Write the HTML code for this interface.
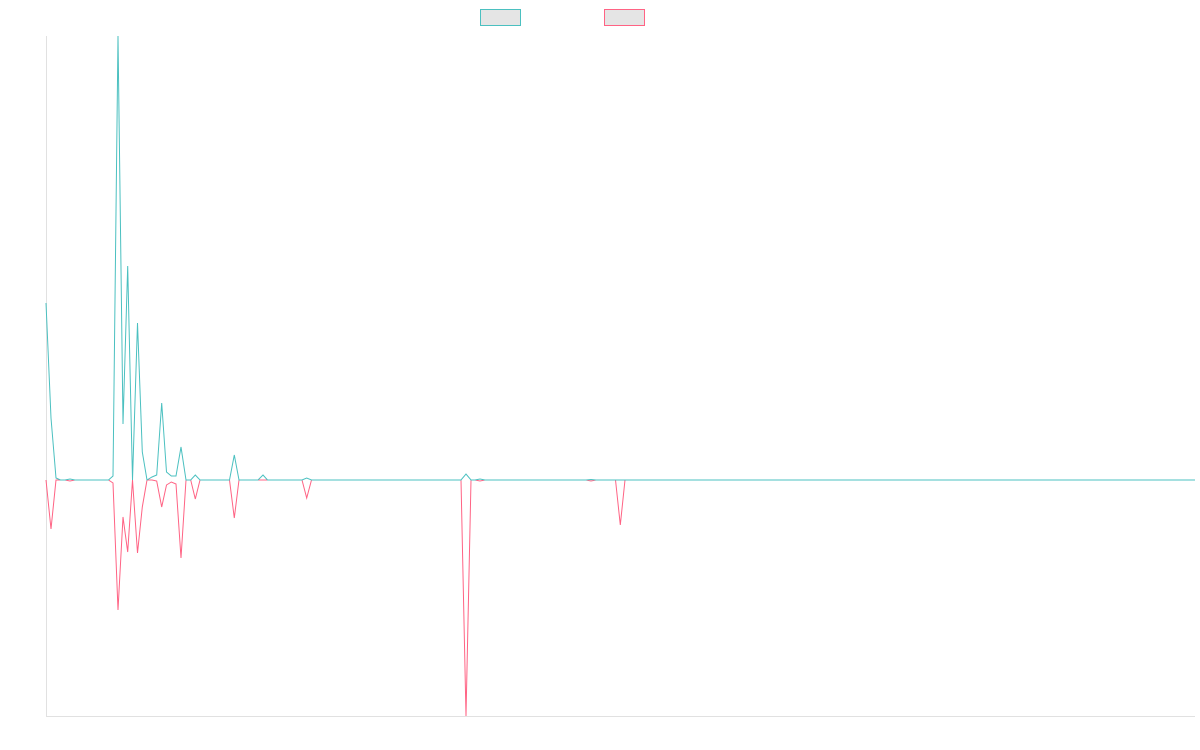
<!DOCTYPE html>
<html><head><meta charset="utf-8"><style>html,body{margin:0;padding:0;background:#fff;}svg{display:block}</style></head>
<body>
<svg width="1200" height="750" xmlns="http://www.w3.org/2000/svg">
<rect x="480.5" y="9.5" width="40" height="16" fill="#e5e5e5" stroke="#4bc0c0" stroke-width="1"/>
<rect x="604.5" y="9.5" width="40" height="16" fill="#e5e5e5" stroke="#ff6384" stroke-width="1"/>
<line x1="46.5" y1="36" x2="46.5" y2="716.5" stroke="#e1e1e1" stroke-width="1"/>
<line x1="46" y1="716.5" x2="1195" y2="716.5" stroke="#e1e1e1" stroke-width="1"/>
<polyline fill="none" stroke="#ff6384" stroke-width="1" stroke-linejoin="miter" points="46,480 51,529 56,480 65,480 70,481 75,480 108.5,480 113,483 118,610 123,517 127.7,552 132.5,480 137.5,553 142.3,507 147,480 152,480 156.7,481 161.7,507 166.5,485 171.3,482 176,484 181,558 186,480 190.7,480 195.3,499 200,480 229.5,480 234.3,518 239,480 302,480 306.7,498 311.5,480 461,480 466,716 471,480 475,480 480,481 485,480 586,480 591,481 596,480 615.5,480 620.3,525 625,480 1195,480"/>
<polyline fill="none" stroke="#4bc0c0" stroke-width="1" stroke-linejoin="miter" points="46,303 51,418 56,478 60.5,480 65,480 70,479 75,480 108.5,480 113,476 118,36 123,424 127.7,266 132.5,480 137.5,323 142.3,452 147,480 152,477 156.7,475 161.7,403 166.5,472 171.3,476 176,476 181,447 186,480 190.7,480 195.3,475 200,480 229.5,480 234.3,455 239,480 258,480 263,475 267.5,480 302,480 306.7,478 311.5,480 461,480 466,474 471,480 475,480 480,479 485,480 586,480 591,479.5 596,480 1195,480"/>
</svg>
</body></html>
